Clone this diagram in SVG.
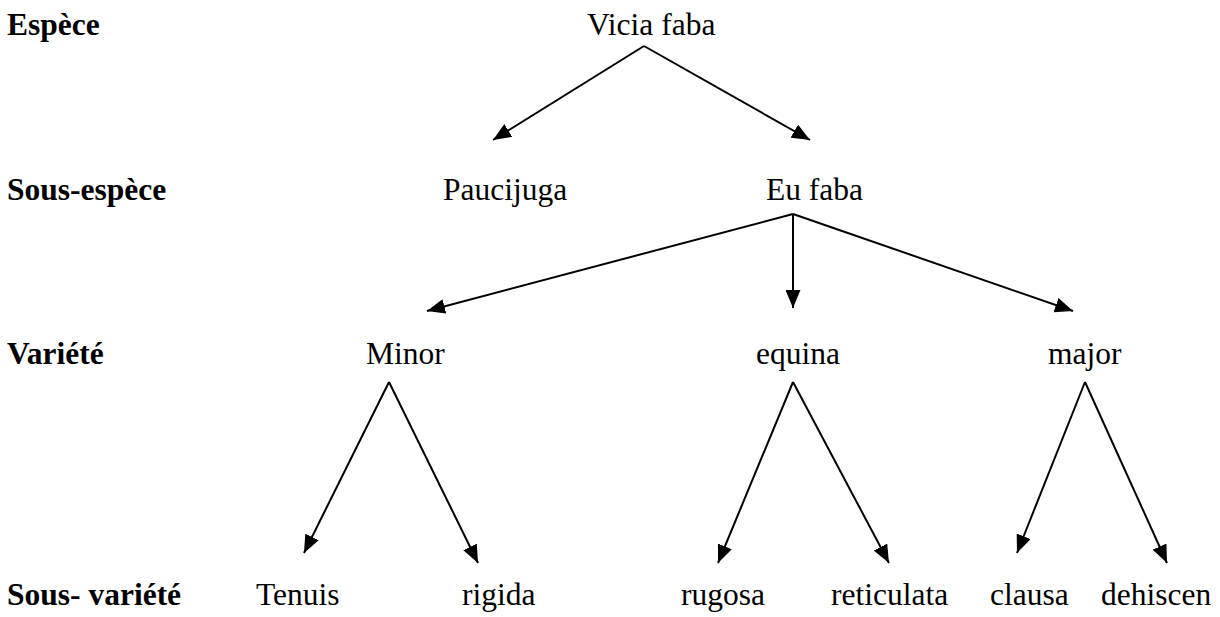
<svg xmlns="http://www.w3.org/2000/svg" width="1220" height="617" viewBox="0 0 1220 617">
<style>
text{font-family:"Liberation Serif","Times New Roman",serif;font-size:31.5px;fill:#000}
.lvl{font-weight:bold}
.c line{stroke:#000;stroke-width:2;marker-end:url(#ah)}
</style>
<defs>
<marker id="ah" markerUnits="userSpaceOnUse" markerWidth="19" markerHeight="15" refX="18" refY="7.5" orient="auto">
<path d="M0,0 L18,7.5 L0,15 Z" fill="#000"/>
</marker>
</defs>
<rect width="1220" height="617" fill="#fff"/>
<g id="levels">
<text class="lvl" x="7" y="35">Espèce</text>
<text class="lvl" x="7" y="200">Sous-espèce</text>
<text class="lvl" x="7" y="364">Variété</text>
<text class="lvl" x="7" y="605">Sous- variété</text>
</g>
<g id="vicia-faba"><text x="587" y="35">Vicia faba</text></g>
<g id="paucijuga"><text x="443" y="200">Paucijuga</text></g>
<g id="eu-faba"><text x="766" y="200">Eu faba</text></g>
<g id="minor"><text x="366" y="364">Minor</text></g>
<g id="equina"><text x="756" y="364">equina</text></g>
<g id="major"><text x="1048" y="364">major</text></g>
<g id="tenuis"><text x="256" y="605">Tenuis</text></g>
<g id="rigida"><text x="462" y="605">rigida</text></g>
<g id="rugosa"><text x="681" y="605">rugosa</text></g>
<g id="reticulata"><text x="831" y="605">reticulata</text></g>
<g id="clausa"><text x="990" y="605">clausa</text></g>
<g id="dehiscen"><text x="1101" y="605">dehiscen</text></g>
<g id="connectors" class="c">
<line x1="644" y1="46" x2="493" y2="140"/>
<line x1="644" y1="46" x2="810" y2="140"/>
<line x1="793" y1="214" x2="427" y2="311"/>
<line x1="793" y1="214" x2="793" y2="308"/>
<line x1="793" y1="214" x2="1073" y2="311"/>
<line x1="389" y1="382" x2="304" y2="553"/>
<line x1="389" y1="382" x2="478" y2="563"/>
<line x1="793" y1="382" x2="718" y2="563"/>
<line x1="793" y1="382" x2="889" y2="563"/>
<line x1="1085" y1="382" x2="1017" y2="553"/>
<line x1="1085" y1="382" x2="1167" y2="563"/>
</g>
</svg>
